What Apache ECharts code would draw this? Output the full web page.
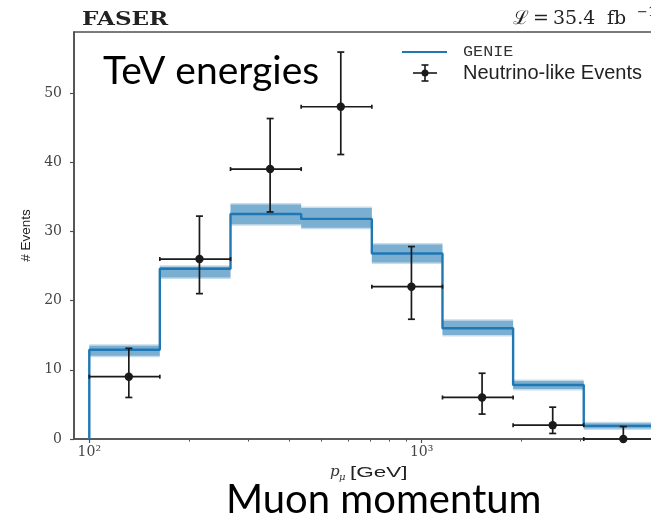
<!DOCTYPE html>
<html>
<head>
<meta charset="utf-8">
<script src="https://cdn.jsdelivr.net/npm/echarts@6/dist/echarts.min.js"></script>
<style>
html, body { margin: 0; padding: 0; background: #fff; }
#chart { width: 651px; height: 522px; }
</style>
</head>
<body>
<div id="chart"></div>
<script>
// p_mu bin edges [GeV]
const binEdges = [100, 163, 266, 434, 708, 1155, 1884, 3073, 5012]
// GENIE prediction per bin + uncertainty band
const genie = [12.9, 24.6, 32.5, 31.8, 26.8, 16.0, 7.8, 1.9]
const genieLow = [11.8, 23.1, 30.8, 30.3, 25.3, 14.8, 7.0, 1.3]
const genieHigh = [13.7, 25.1, 34.1, 33.6, 28.3, 17.3, 8.6, 2.5]
// neutrino-like events (points at bin centres)
const eventX = [131.5, 214.5, 350, 571, 931.5, 1519.5, 2478.5, 4042.5]
const events = [9, 26, 39, 48, 22, 6, 2, 0]
const eventLow = [6.0, 21.0, 32.8, 41.1, 17.3, 3.6, 0.8, 0]
const eventHigh = [13.1, 32.2, 46.3, 55.9, 27.8, 9.5, 4.6, 1.8]
// ticks
const yTicks = [0, 10, 20, 30, 40, 50]
const xMajorTicks = [100, 1000]
const xMinorTicks = [200, 300, 400, 500, 600, 700, 800, 900, 2000, 3000, 4000]
const xTickLabels = { 100: "10²", 1000: "10³" }

const blue = "#1f77b4"
const ink = "#1a1a1a"
const frame = "#505050"

const bandData = genie.map((v, i) => [binEdges[i], binEdges[i + 1], genieLow[i], genieHigh[i]])

let stepData = [[binEdges[0], 0]]
genie.forEach((v, i) => stepData.push([binEdges[i], v]))
stepData.push([binEdges[binEdges.length - 1], genie[genie.length - 1]])

const errData = events.map((v, i) => [eventX[i], v, eventLow[i], eventHigh[i], binEdges[i], binEdges[i + 1]])

function renderBand(params, api) {
	const p0 = api.coord([api.value(0), api.value(3)])
	const p1 = api.coord([api.value(1), api.value(2)])
	const w = p1[0] - p0[0]
	const h = p1[1] - p0[1]
	return {
		type: "group",
		children: [
			{ type: "rect", shape: { x: p0[0], y: p0[1], width: w, height: h }, style: { fill: "rgba(31,119,180,0.25)" } },
			{ type: "rect", shape: { x: p0[0], y: p0[1] + 1.5, width: w, height: h - 3 }, style: { fill: "rgba(31,119,180,0.45)" } }
		]
	}
}

function renderErr(params, api) {
	const c = api.coord([api.value(0), api.value(1)])
	const lo = api.coord([api.value(0), api.value(2)])
	const hi = api.coord([api.value(0), api.value(3)])
	const l = api.coord([api.value(4), api.value(1)])
	const r = api.coord([api.value(5), api.value(1)])
	const st = { stroke: ink, lineWidth: 1.7 }
	return {
		type: "group",
		children: [
			{ type: "line", shape: { x1: l[0], y1: c[1], x2: r[0], y2: c[1] }, style: st },
			{ type: "line", shape: { x1: l[0], y1: c[1] - 2, x2: l[0], y2: c[1] + 2 }, style: st },
			{ type: "line", shape: { x1: r[0], y1: c[1] - 2, x2: r[0], y2: c[1] + 2 }, style: st },
			{ type: "line", shape: { x1: c[0], y1: hi[1], x2: c[0], y2: lo[1] }, style: st },
			{ type: "line", shape: { x1: c[0] - 3.5, y1: hi[1], x2: c[0] + 3.5, y2: hi[1] }, style: st },
			{ type: "line", shape: { x1: c[0] - 3.5, y1: lo[1], x2: c[0] + 3.5, y2: lo[1] }, style: st },
			{ type: "circle", shape: { cx: c[0], cy: c[1], r: 4.2 }, style: { fill: ink } }
		]
	}
}

const chart = echarts.init(document.getElementById("chart"))
chart.setOption({
	animation: false,
	backgroundColor: "#fff",
	grid: {
		left: 74,
		top: 32,
		width: 587,
		height: 407,
		show: true,
		borderColor: frame,
		borderWidth: 1.6,
		outerBoundsMode: "none"
	},
	xAxis: [
		{
			type: "log",
			logBase: 10,
			min: 89.95,
			max: 5248,
			position: "bottom",
			axisLine: { show: true, lineStyle: { color: frame, width: 1.6 } },
			axisTick: { show: true, customValues: xMajorTicks, length: 4, lineStyle: { color: frame, width: 1.2 } },
			axisLabel: {
				customValues: xMajorTicks,
				formatter: v => xTickLabels[Math.round(v)] || "",
				margin: 6,
				color: "#444",
				fontFamily: "DejaVu Serif",
				fontSize: 14
			},
			splitLine: { show: false }
		},
		{
			type: "log",
			logBase: 10,
			min: 89.95,
			max: 5248,
			position: "bottom",
			axisLine: { show: false },
			axisTick: { show: true, customValues: xMinorTicks, length: 2.5, lineStyle: { color: frame, width: 1 } },
			axisLabel: { show: false },
			splitLine: { show: false }
		}
	],
	yAxis: {
		type: "value",
		min: 0,
		max: 58.8,
		interval: 10,
		axisLine: { show: true, lineStyle: { color: frame, width: 1.6 } },
		axisTick: { show: true, customValues: yTicks, length: 4, lineStyle: { color: frame, width: 1.2 } },
		axisLabel: { customValues: yTicks, margin: 12, color: "#444", fontFamily: "DejaVu Serif", fontSize: 14 },
		splitLine: { show: false },
		name: "# Events",
		nameLocation: "middle",
		nameGap: 40,
		nameTextStyle: { fontFamily: "Liberation Sans", fontSize: 13.5, color: "#222" }
	},
	series: [
		{
			type: "custom",
			name: "band",
			renderItem: renderBand,
			encode: { x: [0, 1], y: [2, 3] },
			data: bandData,
			z: 1
		},
		{
			type: "line",
			name: "GENIE",
			step: "end",
			data: stepData,
			showSymbol: false,
			lineStyle: { color: blue, width: 2.4 },
			itemStyle: { color: blue },
			z: 2
		},
		{
			type: "custom",
			name: "Neutrino-like Events",
			renderItem: renderErr,
			encode: { x: [0, 4, 5], y: [1, 2, 3] },
			data: errData,
			z: 3
		}
	],
	graphic: [
		{ type: "text", x: 82, y: 20, scaleX: 1.28, style: { text: "FASER", font: 'bold 18px "DejaVu Serif"', fill: "#222", verticalAlign: "middle" } },
		// luminosity label, cut at the right edge like the original
		{ type: "text", x: 513, y: 19, style: { text: "ℒ", font: '19px "DejaVu Serif"', fill: "#222", verticalAlign: "middle" } },
		{ type: "text", x: 533, y: 19, style: { text: "=", font: '19px "DejaVu Serif"', fill: "#222", verticalAlign: "middle" } },
		{ type: "text", x: 553, y: 19, style: { text: "35.4", font: '19px "DejaVu Serif"', fill: "#222", verticalAlign: "middle" } },
		{ type: "text", x: 607, y: 19, style: { text: "fb", font: '19px "DejaVu Serif"', fill: "#222", verticalAlign: "middle" } },
		{ type: "text", x: 637, y: 13, style: { text: "−1", font: '13px "DejaVu Serif"', fill: "#222", verticalAlign: "middle" } },
		{ type: "text", x: 103, y: 71, style: { text: "TeV energies", font: '39px Lato', fill: "#000", verticalAlign: "middle" } },
		{ type: "text", x: 226, y: 500, style: { text: "Muon momentum", font: '40px Lato', fill: "#000", verticalAlign: "middle" } },
		// x axis title
		{ type: "text", x: 330, y: 472, style: { text: "p", font: 'italic 15px "DejaVu Serif"', fill: "#333", verticalAlign: "middle" } },
		{ type: "text", x: 339, y: 477, style: { text: "μ", font: 'italic 10px "DejaVu Serif"', fill: "#333", verticalAlign: "middle" } },
		{ type: "text", x: 350, y: 473, scaleX: 1.5, style: { text: "[GeV]", font: '15px "Liberation Sans"', fill: "#222", verticalAlign: "middle" } },
		// legend
		{ type: "line", shape: { x1: 402, y1: 52, x2: 447, y2: 52 }, style: { stroke: blue, lineWidth: 2.2 } },
		{ type: "text", x: 463, y: 52, scaleX: 1.2, style: { text: "GENIE", font: '14px "Liberation Mono"', fill: "#333", verticalAlign: "middle" } },
		{ type: "line", shape: { x1: 413, y1: 73, x2: 437, y2: 73 }, style: { stroke: ink, lineWidth: 1.6 } },
		{ type: "line", shape: { x1: 425, y1: 65, x2: 425, y2: 81 }, style: { stroke: ink, lineWidth: 1.6 } },
		{ type: "line", shape: { x1: 421.5, y1: 65, x2: 428.5, y2: 65 }, style: { stroke: ink, lineWidth: 1.6 } },
		{ type: "line", shape: { x1: 421.5, y1: 81, x2: 428.5, y2: 81 }, style: { stroke: ink, lineWidth: 1.6 } },
		{ type: "circle", shape: { cx: 425, cy: 73, r: 3.5 }, style: { fill: ink } },
		{ type: "text", x: 463, y: 73, style: { text: "Neutrino-like Events", font: '20px "Liberation Sans"', fill: "#222", verticalAlign: "middle" } }
	]
})
</script>
</body>
</html>
